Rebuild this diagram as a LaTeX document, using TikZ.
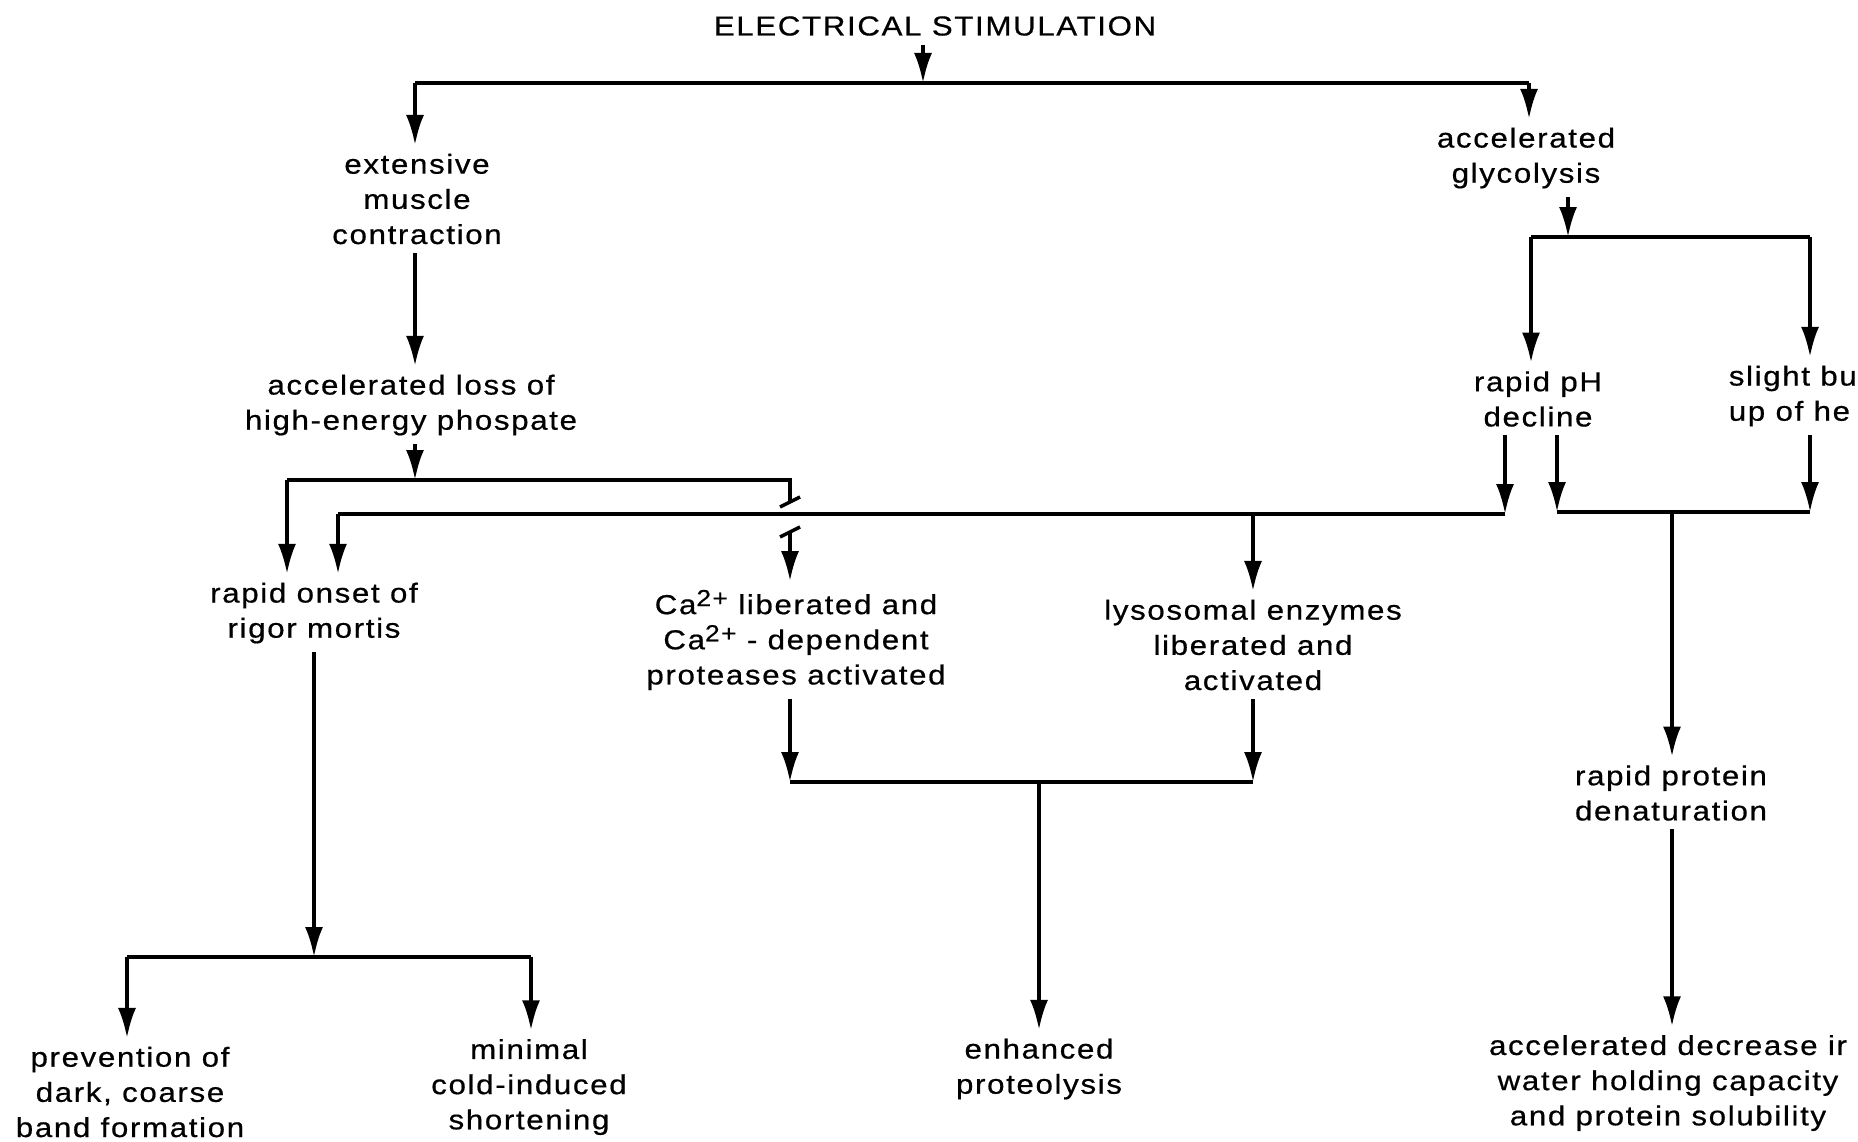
\documentclass[tikz,border=0pt]{standalone}
\usepackage{fontspec}
\usetikzlibrary{arrows.meta}
\newfontfamily\diagfont[LetterSpace=6, FakeStretch=1.14, FakeBold=0.6]{Liberation Sans}
\newcommand{\ionsup}[1]{\raisebox{0.55ex}{\fontsize{6.6}{6}\selectfont #1}}
\tikzset{
  lbl/.style = {align=center, inner sep=2pt, font=\diagfont\fontsize{7.8}{10}\selectfont},
  arr/.style = {-{Latex[length=3mm, width=1.8mm]}}
}
\begin{document}
\begin{tikzpicture}[x=0.01cm, y=-0.01cm, line width = 1.0]
\useasboundingbox (0,0) rectangle (1858,1141);

\node[lbl] (title) at (935,26) {ELECTRICAL STIMULATION};
\node[lbl] (extensive) at (417,199) {extensive\\muscle\\contraction};
\node[lbl] (loss) at (411,405) {accelerated loss of\\high-energy phospate};
\node[lbl] (rigor) at (314,613) {rapid onset of\\rigor mortis};
\node[lbl] (calcium) at (796,640) {Ca\ionsup{2+} liberated and\\Ca\ionsup{2+} - dependent\\proteases activated};
\node[lbl] (lysosomal) at (1253,645) {lysosomal enzymes\\liberated and\\activated};
\node[lbl] (proteolysis) at (1039,1069) {enhanced\\proteolysis};
\node[lbl] (prevention) at (130,1092) {prevention of\\dark, coarse\\band formation};
\node[lbl] (minimal) at (529,1087) {minimal\\cold-induced\\shortening};
\node[lbl] (glycolysis) at (1526,158) {accelerated\\glycolysis};
\node[lbl] (decline) at (1538,399) {rapid pH\\decline};
\node[lbl, align=left, anchor=west] (buildup) at (1720,396) {slight bu\\up of he};
\node[lbl] (denaturation) at (1671,793) {rapid protein\\denaturation};
\node[lbl] (decrease) at (1668,1083) {accelerated decrease ir\\water holding capacity\\and protein solubility};

\coordinate (tl) at (415,83);
\coordinate (tm) at (923,83);
\coordinate (tr) at (1529,83);
\draw (tl) -- (tr);
\draw[arr] (tm |- title.south) -- (tm);
\draw[arr] (tl) -- (tl |- extensive.north);
\draw[arr] (tr) -- (tr |- glycolysis.north);
\draw[arr] (tl |- extensive.south) -- (tl |- loss.north);

\coordinate (pl) at (287,480);
\coordinate (pm) at (415,480);
\coordinate (pr) at (790,480);
\coordinate (pj) at (790,532);
\draw[arr] (pm |- loss.south) -- (pm);
\draw (pl) -- (pr) -- (790,502);
\draw (780,507) -- (800,497);
\draw (780,537) -- (800,527);
\draw[arr] (pj) -- (pj |- calcium.north);
\draw[arr] (pl) -- (pl |- rigor.north);

\coordinate (ql) at (338,514);
\coordinate (qm) at (1253,514);
\coordinate (qr) at (1505,514);
\draw[arr] (qr |- decline.south) -- (qr);
\draw (qr) -- (ql);
\draw[arr] (ql) -- (ql |- rigor.north);
\draw[arr] (qm) -- (qm |- lysosomal.north);

\coordinate (cl) at (790,782);
\coordinate (cm) at (1039,782);
\coordinate (cr) at (1253,782);
\draw[arr] (cl |- calcium.south) -- (cl);
\draw[arr] (cr |- lysosomal.south) -- (cr);
\draw (cl) -- (cr);
\draw[arr] (cm) -- (cm |- proteolysis.north);

\coordinate (rl) at (127,957);
\coordinate (rm) at (314,957);
\coordinate (rr) at (531,957);
\draw[arr] (rm |- rigor.south) -- (rm);
\draw (rl) -- (rr);
\draw[arr] (rl) -- (rl |- prevention.north);
\draw[arr] (rr) -- (rr |- minimal.north);

\coordinate (gl) at (1531,237);
\coordinate (gm) at (1568,237);
\coordinate (gr) at (1810,237);
\draw[arr] (gm |- glycolysis.south) -- (gm);
\draw (gl) -- (gr);
\draw[arr] (gl) -- (gl |- decline.north);
\draw[arr] (gr) -- (gr |- buildup.north);

\coordinate (hl) at (1557,512);
\coordinate (hm) at (1672,512);
\coordinate (hr) at (1810,512);
\draw[arr] (hl |- decline.south) -- (hl);
\draw[arr] (hr |- buildup.south) -- (hr);
\draw (hl) -- (hr);
\draw[arr] (hm) -- (hm |- denaturation.north);
\draw[arr] (hm |- denaturation.south) -- (hm |- decrease.north);

\end{tikzpicture}
\end{document}
